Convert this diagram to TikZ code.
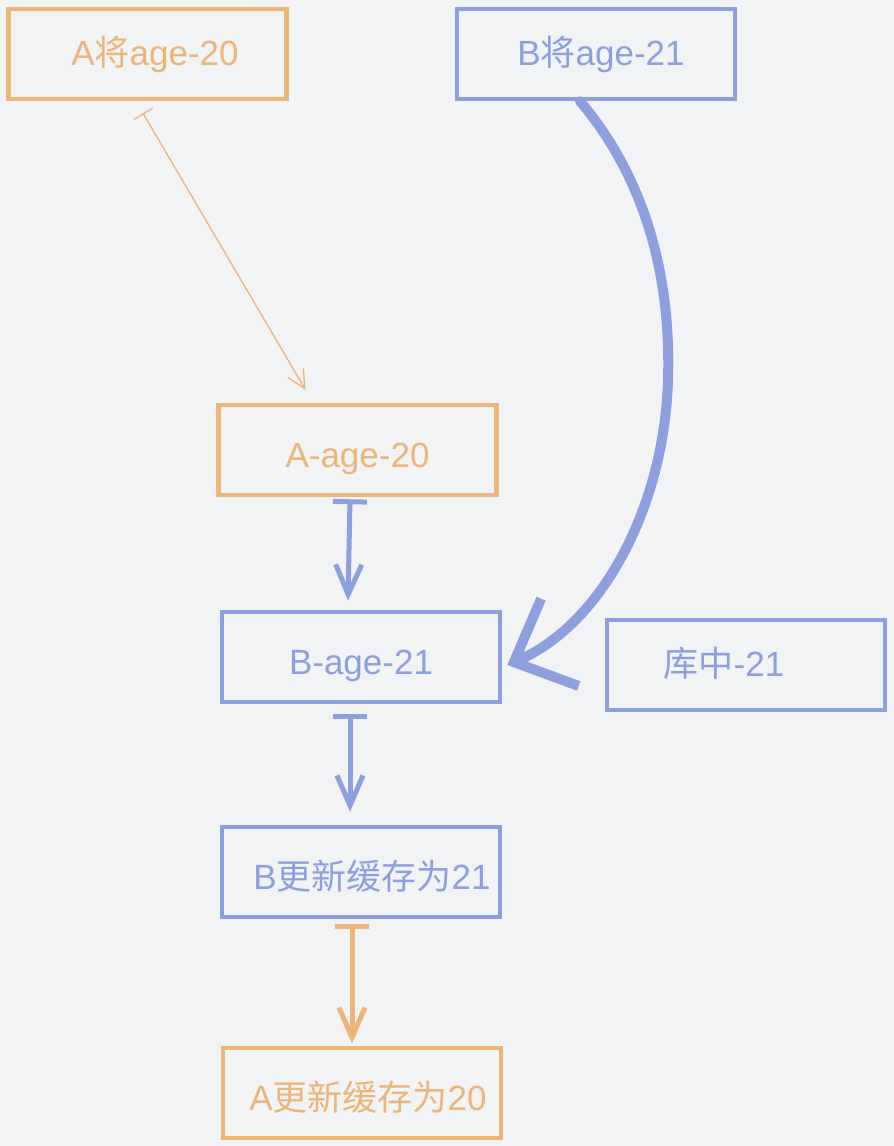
\documentclass[tikz,border=0pt]{standalone}
\usepackage{fontspec}
\setmainfont{Liberation Sans}
\newfontfamily\cjk{Noto Sans CJK SC}
\usetikzlibrary{arrows.meta}
\definecolor{bgcol}{HTML}{F2F3F5}
\definecolor{ora}{HTML}{EDB577}
\definecolor{blu}{HTML}{8D9FDD}

\begin{document}
\begin{tikzpicture}[x=1pt, y=-1pt,
    box/.style={draw, line width=4.5pt, minimum width=278pt, minimum height=90pt, inner sep=0pt, text height=37pt, text depth=3pt, font=\fontsize{35}{42}\selectfont},
    obox/.style={box, draw=ora, text=ora},
    bbox/.style={box, draw=blu, text=blu},
    high/.style={text height=25pt, text depth=3pt},
    link/.style={line width=5pt, line cap=round, {Bar[width=34pt]}-{Straight Barb[length=30pt,width=26pt]}}]
    \fill[bgcol] (0,0) rectangle (894,1146);
    \useasboundingbox (0,0) rectangle (894,1146);

    \node[obox, high] (A1) at (147.5, 54) {\hspace*{15pt}A{\cjk 将}age-20};
    \node[bbox, high] (B1) at (596, 54) {\hspace*{10pt}B{\cjk 将}age-21};
    \node[obox] (Aage) at (357.5, 450) {A-age-20};
    \node[bbox] (Bage) at (361, 657) {B-age-21};
    \node[bbox, high] (db) at (746, 665) {\hspace*{-44pt}{\cjk 库中}-21};
    \node[bbox] (Bnew) at (361, 872) {\hspace*{22pt}B{\cjk 更新缓存为}21};
    \node[obox] (Anew) at (362, 1093) {\hspace*{12pt}A{\cjk 更新缓存为}20};

    \draw[ora, line width=1.3pt, {Bar[width=22pt]}-{Straight Barb[length=18pt,width=18pt]}]
        ([xshift=-4.5pt, yshift=-12pt]A1.south) to ([xshift=-52pt, yshift=13pt]Aage.north);
    \draw[blu, line width=10pt, line cap=round, -{Straight Barb[length=50pt,width=95pt]}]
        ([xshift=-16pt]B1.south) .. controls (630,160) and (672,250) .. (668,380)
        .. controls (664,510) and (600,625) .. ([xshift=5pt, yshift=-8pt]Bage.east);
    \draw[blu, link] ([xshift=-7.5pt, yshift=-2pt]Aage.south) to ([xshift=-13pt, yshift=9pt]Bage.north);
    \draw[blu, link] ([xshift=-11pt, yshift=-10pt]Bage.south) to ([xshift=-11pt, yshift=13pt]Bnew.north);
    \draw[ora, link] ([xshift=-9pt, yshift=-5pt]Bnew.south) to ([xshift=-10pt, yshift=2pt]Anew.north);
\end{tikzpicture}
\end{document}
